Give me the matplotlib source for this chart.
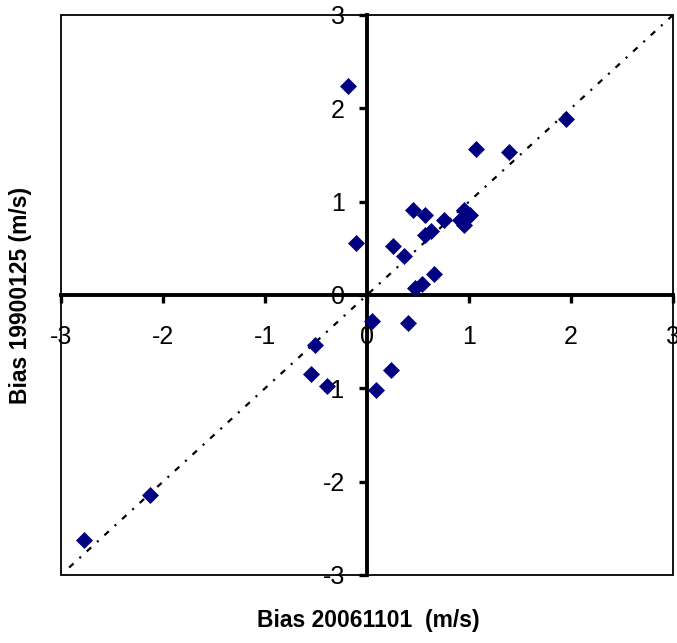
import matplotlib.pyplot as plt
from matplotlib.patches import Rectangle

plt.rcParams['font.family'] = ['Liberation Sans', 'DejaVu Sans']
plt.rcParams['lines.scale_dashes'] = False

# bias values (m/s)
bias_2006 = [-2.77, -2.13, -0.51, -0.55, -0.39, -0.19, -0.11, 0.05, 0.09, 0.24,
             0.25, 0.36, 0.40, 0.45, 0.47, 0.54, 0.57, 0.57, 0.63, 0.66,
             0.75, 0.91, 0.95, 0.95, 1.01, 1.07, 1.39, 1.95]
bias_1990 = [-2.63, -2.14, -0.54, -0.85, -0.97, 2.24, 0.56, -0.28, -1.02, -0.80,
             0.53, 0.42, -0.30, 0.91, 0.08, 0.12, 0.86, 0.64, 0.69, 0.22,
             0.80, 0.80, 0.75, 0.91, 0.86, 1.56, 1.53, 1.89]

# 1:1 reference line
line_x = [-2.92, 3.0]
line_y = [-2.92, 3.0]

ticks = [-3, -2, -1, 0, 1, 2, 3]
tick_labels = ['-3', '-2', '-1', '0', '1', '2', '3']

fig = plt.figure(figsize=(6.77, 6.43), dpi=100)
ax = fig.add_axes([61 / 677, 68 / 643, 612 / 677, 560 / 643])

ax.plot(line_x, line_y, color='black', lw=1.6,
        linestyle=(0, (4.3, 5.7, 1.5, 5.7)), zorder=2)
ax.plot(bias_2006, bias_1990, 'D', color='#000080', ms=8.5, mew=0.5, zorder=3)

ax.set_xlim(-3, 3)
ax.set_ylim(-3, 3)

for side in ['left', 'bottom']:
    ax.spines[side].set_position(('data', 0))
    ax.spines[side].set_linewidth(2.8)
for side in ['top', 'right']:
    ax.spines[side].set_visible(False)

ax.add_patch(Rectangle((0, 0), 1, 1, transform=ax.transAxes, fill=False,
                       lw=1.3, edgecolor='black', clip_on=False, zorder=1))

ax.set_xticks(ticks)
ax.set_xticklabels(tick_labels)
ax.set_yticks(ticks)
ax.set_yticklabels(tick_labels)
ax.tick_params(axis='x', direction='out', length=5.8, width=2.4, pad=16, labelsize=18)
ax.tick_params(axis='y', direction='out', length=5.8, width=2.4, pad=10, labelsize=18)

fig.text(368 / 677, 1 - 620 / 643, 'Bias 20061101  (m/s)', ha='center', va='center',
         fontsize=16.5, fontweight='bold')
fig.text(21 / 677, 1 - 295 / 643, 'Bias 19900125 (m/s)', ha='center', va='center',
         rotation=90, fontsize=16.5, fontweight='bold')

fig.savefig('out.png', dpi=100)
